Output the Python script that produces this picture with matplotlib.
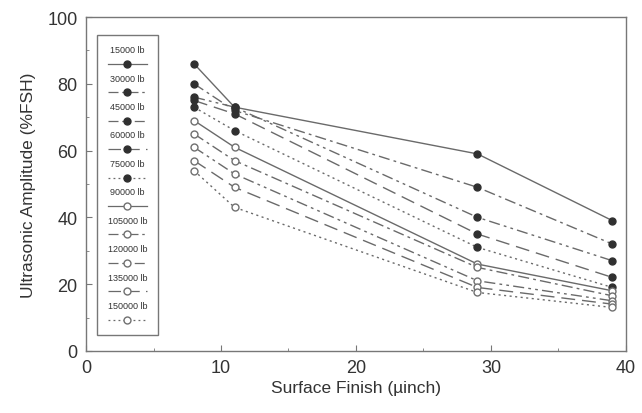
import matplotlib
matplotlib.use("Agg")
import matplotlib.pyplot as plt
from matplotlib.lines import Line2D
from matplotlib.offsetbox import TextArea, DrawingArea, VPacker, AnchoredOffsetbox
from matplotlib.ticker import MultipleLocator

plt.rcParams['font.family'] = ['Liberation Sans', 'DejaVu Sans']

surface_finish = [8, 11, 29, 39]
loads = ["15000 lb", "30000 lb", "45000 lb", "60000 lb", "75000 lb",
         "90000 lb", "105000 lb", "120000 lb", "135000 lb", "150000 lb"]
amp_15000 = [86, 73, 59, 39]
amp_30000 = [80, 72, 49, 32]
amp_45000 = [76, 73, 40, 27]
amp_60000 = [75, 71, 35, 22]
amp_75000 = [73, 66, 31, 19]
amp_90000 = [69, 61, 26, 18]
amp_105000 = [65, 57, 25, 16.5]
amp_120000 = [61, 53, 21, 15]
amp_135000 = [57, 49, 19, 14]
amp_150000 = [54, 43, 17.5, 13]
series = [amp_15000, amp_30000, amp_45000, amp_60000, amp_75000,
          amp_90000, amp_105000, amp_120000, amp_135000, amp_150000]

styles = ['-', (0, (8, 3, 2, 3)), (0, (8, 3, 2, 3, 2, 3)), (0, (10, 5)), (0, (1.5, 2.5))] * 2
filled = [True] * 5 + [False] * 5
line_color = '#6a6a6a'
mk_color = '#303030'

fig = plt.figure(figsize=(6.42, 4.14), dpi=100)
ax = fig.add_axes([0.134, 0.150, 0.841, 0.8065])

for vals, ls, f in zip(series, styles, filled):
    ax.plot(surface_finish, vals, linestyle=ls, color=line_color, lw=1.0,
            marker='o', markersize=5,
            markerfacecolor=mk_color if f else 'white',
            markeredgecolor=mk_color if f else '#707070', markeredgewidth=1.0)

ax.set_xlim(0, 40)
ax.set_ylim(0, 100)
ax.xaxis.set_major_locator(MultipleLocator(10))
ax.xaxis.set_minor_locator(MultipleLocator(5))
ax.yaxis.set_major_locator(MultipleLocator(20))
ax.yaxis.set_minor_locator(MultipleLocator(10))
ax.tick_params(which='both', direction='in', color='#777777', labelcolor='#333333',
               labelsize=13, top=False, right=False)
ax.tick_params(which='major', length=4, pad=6)
ax.tick_params(which='minor', length=2.5)
for sp in ax.spines.values():
    sp.set_color('#777777')
    sp.set_linewidth(1.0)

ax.set_xlabel('Surface Finish (µinch)', fontsize=12.5, color='#333333', labelpad=3)
ax.set_ylabel('Ultrasonic Amplitude (%FSH)', fontsize=12.5, color='#333333', labelpad=8)

# custom legend: label above each line sample
children = []
for lab, ls, f in zip(loads, styles, filled):
    children.append(TextArea(lab, textprops=dict(fontsize=6.5, color='#333333')))
    da = DrawingArea(30, 8, 0, 0)
    da.add_artist(Line2D([1, 29], [4, 4], linestyle=ls, color=line_color, lw=0.9))
    da.add_artist(Line2D([15], [4], marker='o', markersize=5,
                         markerfacecolor=mk_color if f else 'white',
                         markeredgecolor=mk_color if f else '#707070',
                         markeredgewidth=1.0, linestyle='none'))
    children.append(da)
pack = VPacker(children=children, align='center', pad=0, sep=3.0)
anch = AnchoredOffsetbox(loc='upper left', child=pack, pad=0.7, borderpad=0,
                         frameon=True, bbox_to_anchor=(0.02, 0.945),
                         bbox_transform=ax.transAxes)
anch.patch.set_edgecolor('#777777')
anch.patch.set_linewidth(1.0)
ax.add_artist(anch)

fig.savefig('out.png', dpi=100)
